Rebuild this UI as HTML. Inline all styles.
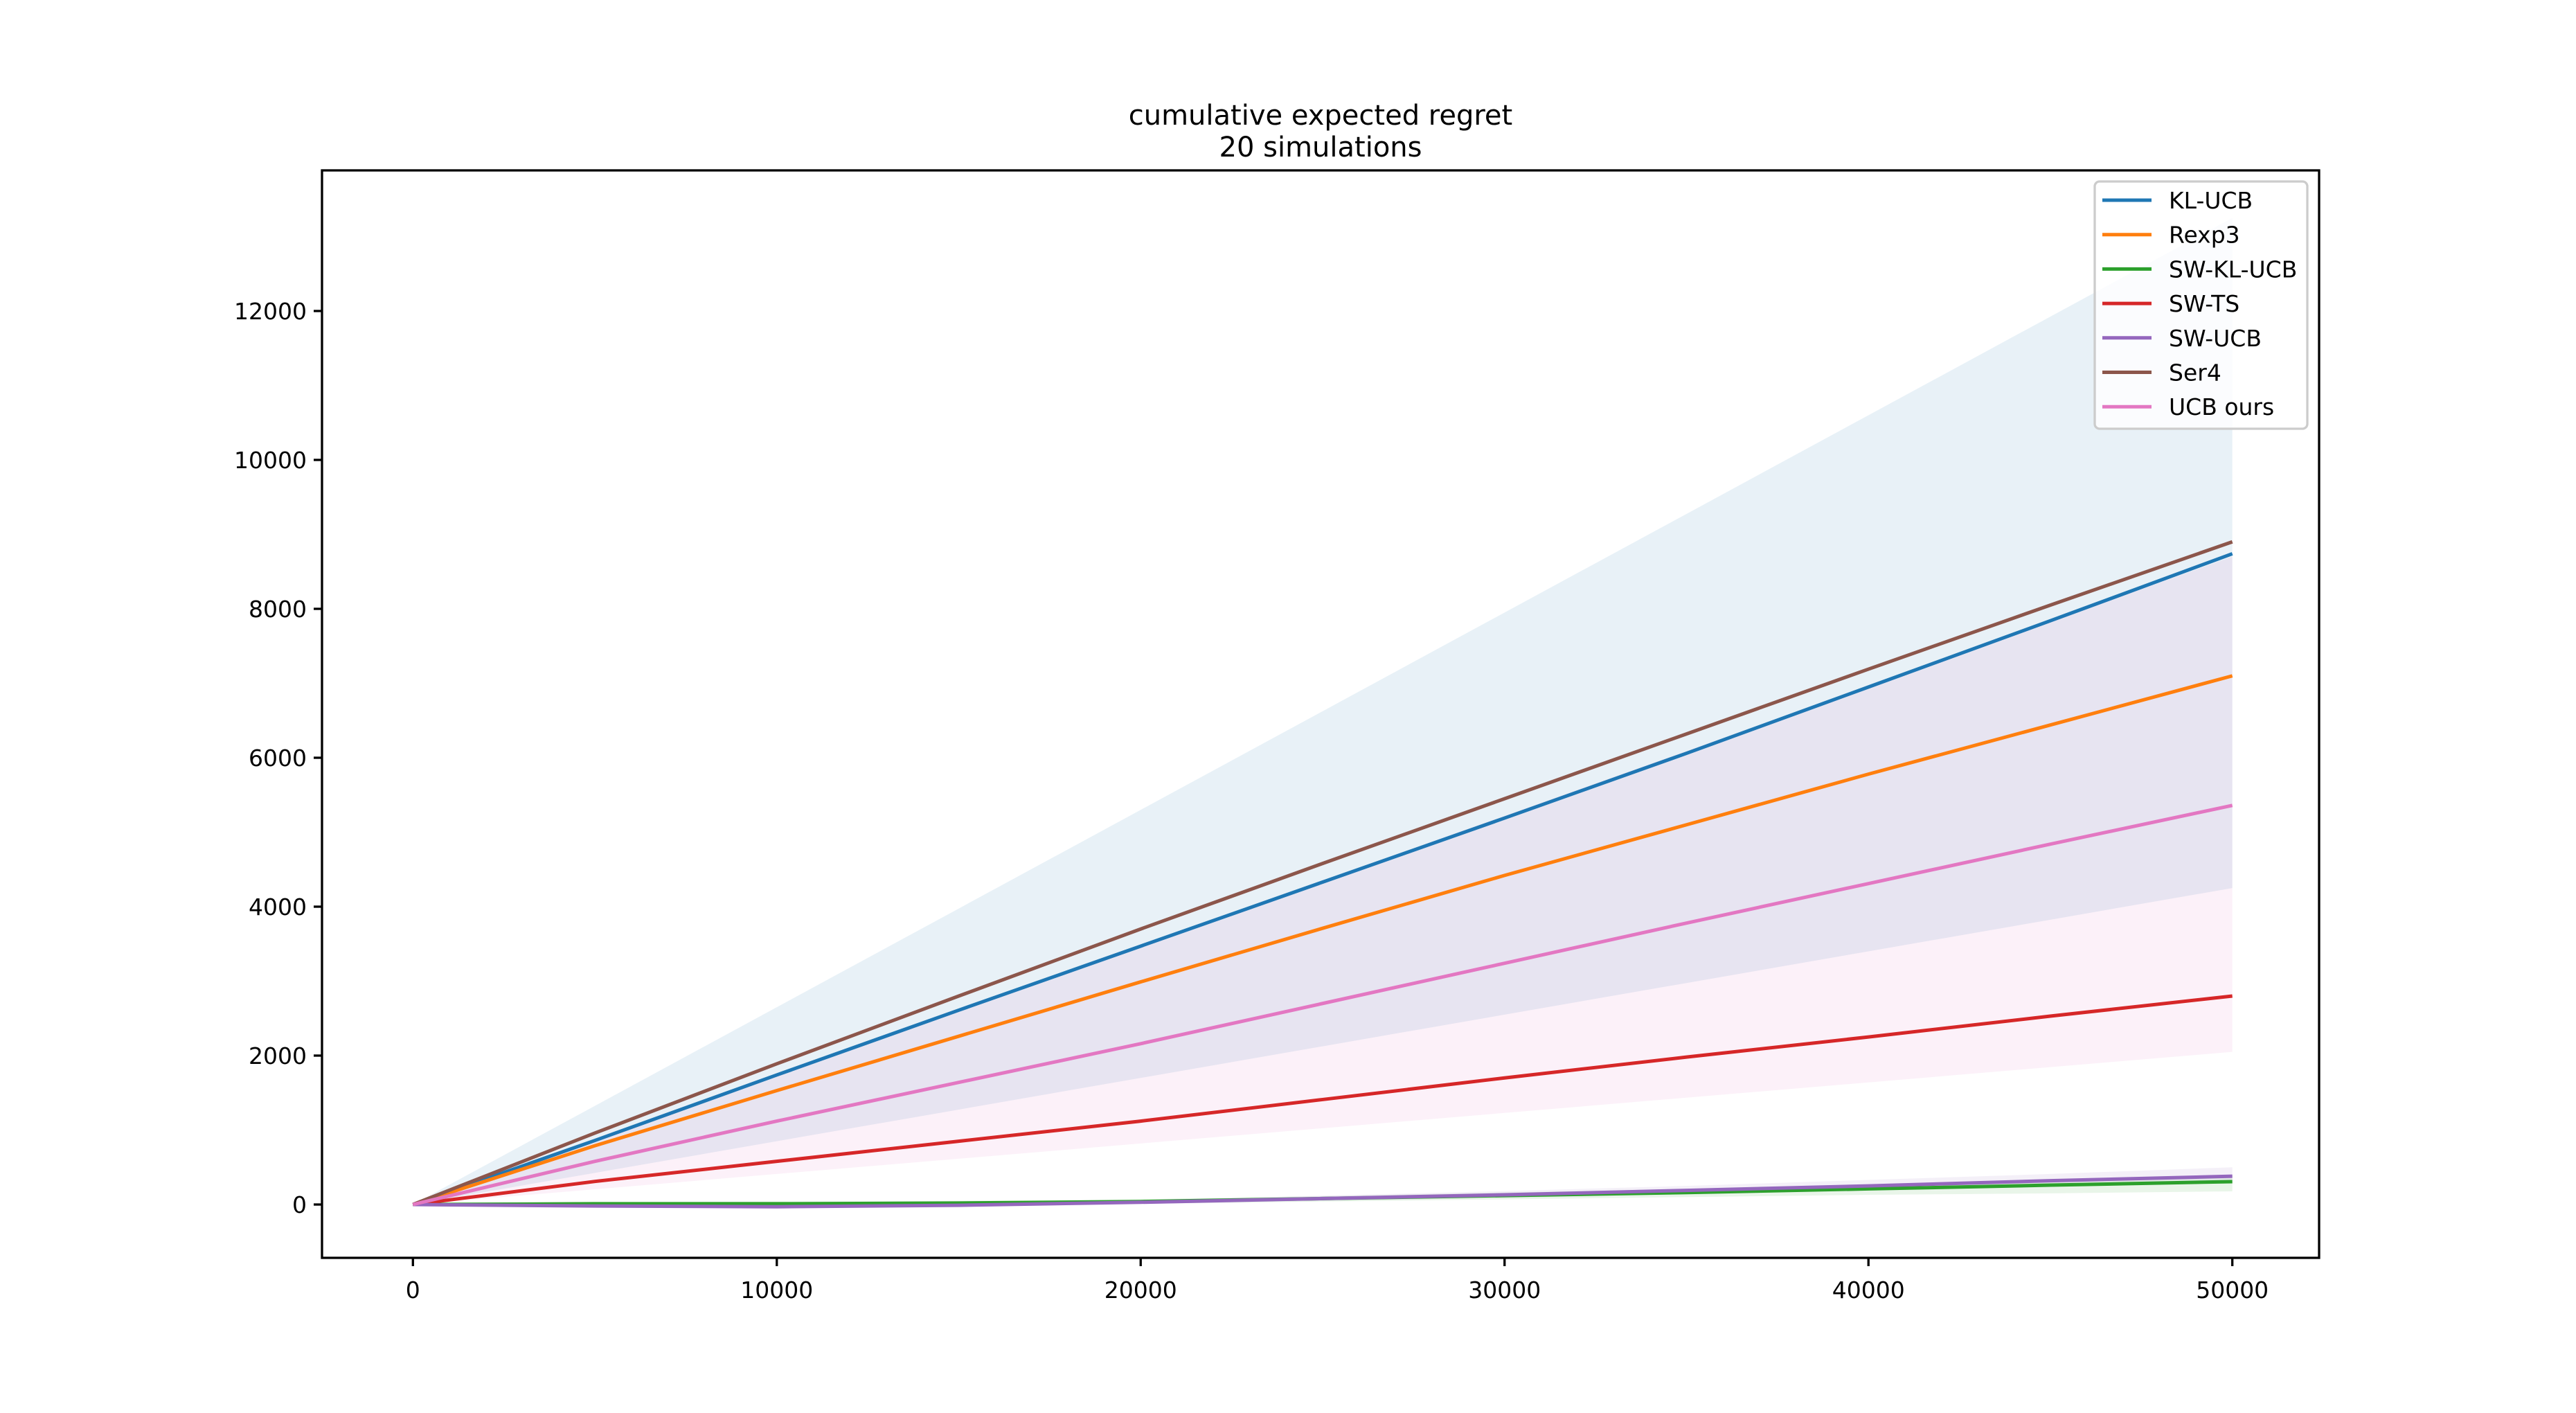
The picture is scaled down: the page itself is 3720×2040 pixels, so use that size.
<!DOCTYPE html>
<html><head><meta charset="utf-8"><style>
html,body{margin:0;padding:0;background:#fff;}
svg{display:block;font-family:"DejaVu Sans","Liberation Sans",sans-serif;}
</style></head><body>
<svg id="chart" width="3720" height="2040" viewBox="0 0 3720 2040">
<rect width="3720" height="2040" fill="#fff"/>
<text x="1907" y="180" font-size="40" text-anchor="middle">cumulative expected regret</text>
<text x="1907" y="226" font-size="40" text-anchor="middle">20 simulations</text>
<g id="bands"></g>
<g id="lines"></g>
<g id="axes"></g>
<g id="legend"></g>
</svg>
<script>
const xs = [0,5000,10000,15000,20000,25000,30000,35000,40000,45000,50000];
const seriesNames = ["KL-UCB","Rexp3","SW-KL-UCB","SW-TS","SW-UCB","Ser4","UCB ours"];
const seriesColors = ["#1f77b4","#ff7f0e","#2ca02c","#d62728","#9467bd","#8c564b","#e377c2"];
const klucb = [0,860,1740,2610,3470,4330,5190,6060,6950,7840,8740];
const rexp3 = [0,790,1530,2260,2990,3710,4420,5100,5780,6440,7100];
const swklucb = [0,10,10,20,40,80,120,160,210,260,307];
const swts = [0,310,580,850,1120,1410,1700,1980,2250,2530,2800];
const swucb = [0,-20,-30,-10,30,80,130,190,250,320,380];
const ser4 = [0,960,1890,2800,3700,4580,5450,6320,7190,8050,8900];
const ucbours = [0,580,1120,1640,2160,2700,3240,3780,4310,4840,5360];
const seriesValues = [klucb,rexp3,swklucb,swts,swucb,ser4,ucbours];
const blueBandLow = [0,425,850,1275,1700,2125,2550,2975,3400,3825,4250];
const blueBandHigh = [0,1325,2650,3975,5300,6625,7950,9275,10600,11925,13250];
const pinkBandLow = [0,205,410,615,820,1025,1230,1435,1640,1845,2050];
const pinkBandHigh = [0,870,1740,2610,3480,4350,5220,6090,6960,7830,8700];
const purpleBandLow = [0,-40,-50,-30,10,50,90,140,190,240,290];
const purpleBandHigh = [0,0,-10,20,60,120,180,250,330,410,500];
const greenBandLow = [0,-10,-20,-10,10,40,70,100,130,150,177];
const greenBandHigh = [0,30,40,50,70,110,160,210,270,330,390];
const xTicks = [0,10000,20000,30000,40000,50000];
const yTicks = [0,2000,4000,6000,8000,10000,12000];

const AX={l:465,r:3349,t:246,b:1816};
function sx(v){return 596.3+v*0.052548;}
function sy(v){return 1739-v*0.1075;}
const NS="http://www.w3.org/2000/svg";
function mk(tag,attrs,parent){const e=document.createElementNS(NS,tag);for(const k in attrs)e.setAttribute(k,attrs[k]);parent.appendChild(e);return e;}

const bands=document.getElementById('bands');
function band(lo,hi,color,op,name){
  let d="M"+xs.map((x,i)=>sx(x)+","+sy(hi[i])).join("L");
  d+="L"+xs.map((x,i)=>sx(x)+","+sy(lo[i])).reverse().join("L")+"Z";
  const p=mk('path',{d:d,fill:color,'fill-opacity':op},bands);
  
  
}
band(blueBandLow,blueBandHigh,"#1f77b4",0.1,"kl-ucb-band");
band(pinkBandLow,pinkBandHigh,"#e377c2",0.1,"ucb-ours-band");
band(greenBandLow,greenBandHigh,"#2ca02c",0.1,"sw-kl-ucb-band");
band(purpleBandLow,purpleBandHigh,"#9467bd",0.1,"sw-ucb-band");

const lines=document.getElementById('lines');
seriesValues.forEach((vals,si)=>{
  const d="M"+xs.map((x,i)=>sx(x)+","+sy(vals[i])).join("L");
  const p=mk('path',{d:d,fill:"none",stroke:seriesColors[si],'stroke-width':5,'stroke-linejoin':'round'},lines);
  
  
});

const axes=document.getElementById('axes');
const frame=mk('rect',{x:AX.l,y:AX.t,width:AX.r-AX.l,height:AX.b-AX.t,fill:"none",stroke:"#000",'stroke-width':3.3},axes);


xTicks.forEach(v=>{
  const x=sx(v);
  const t=mk('line',{x1:x,x2:x,y1:AX.b,y2:AX.b+12,stroke:"#000",'stroke-width':3.3},axes);
  
  
  const tx=mk('text',{x:x,y:AX.b+58,'font-size':33,'text-anchor':'middle'},axes);
  tx.textContent=String(v);
  
  
});
yTicks.forEach(v=>{
  const y=sy(v);
  const t=mk('line',{x1:AX.l-12,x2:AX.l,y1:y,y2:y,stroke:"#000",'stroke-width':3.3},axes);
  
  
  const tx=mk('text',{x:AX.l-22,y:y+12,'font-size':33,'text-anchor':'end'},axes);
  tx.textContent=String(v);
  
  
});

const lg=document.getElementById('legend');
const box=mk('rect',{x:3025,y:262,width:307,height:357,rx:7,fill:"#fff",'fill-opacity':0.8,stroke:"#ccc",'stroke-width':3.3},lg);


seriesNames.forEach((n,i)=>{
  const y=289+i*49.7;
  const l=mk('line',{x1:3036,x2:3107,y1:y,y2:y,stroke:seriesColors[i],'stroke-width':5},lg);
  
  
  const t=mk('text',{x:3132,y:y+12,'font-size':33},lg);
  t.textContent=n;
  
  
});
</script>
</body></html>
